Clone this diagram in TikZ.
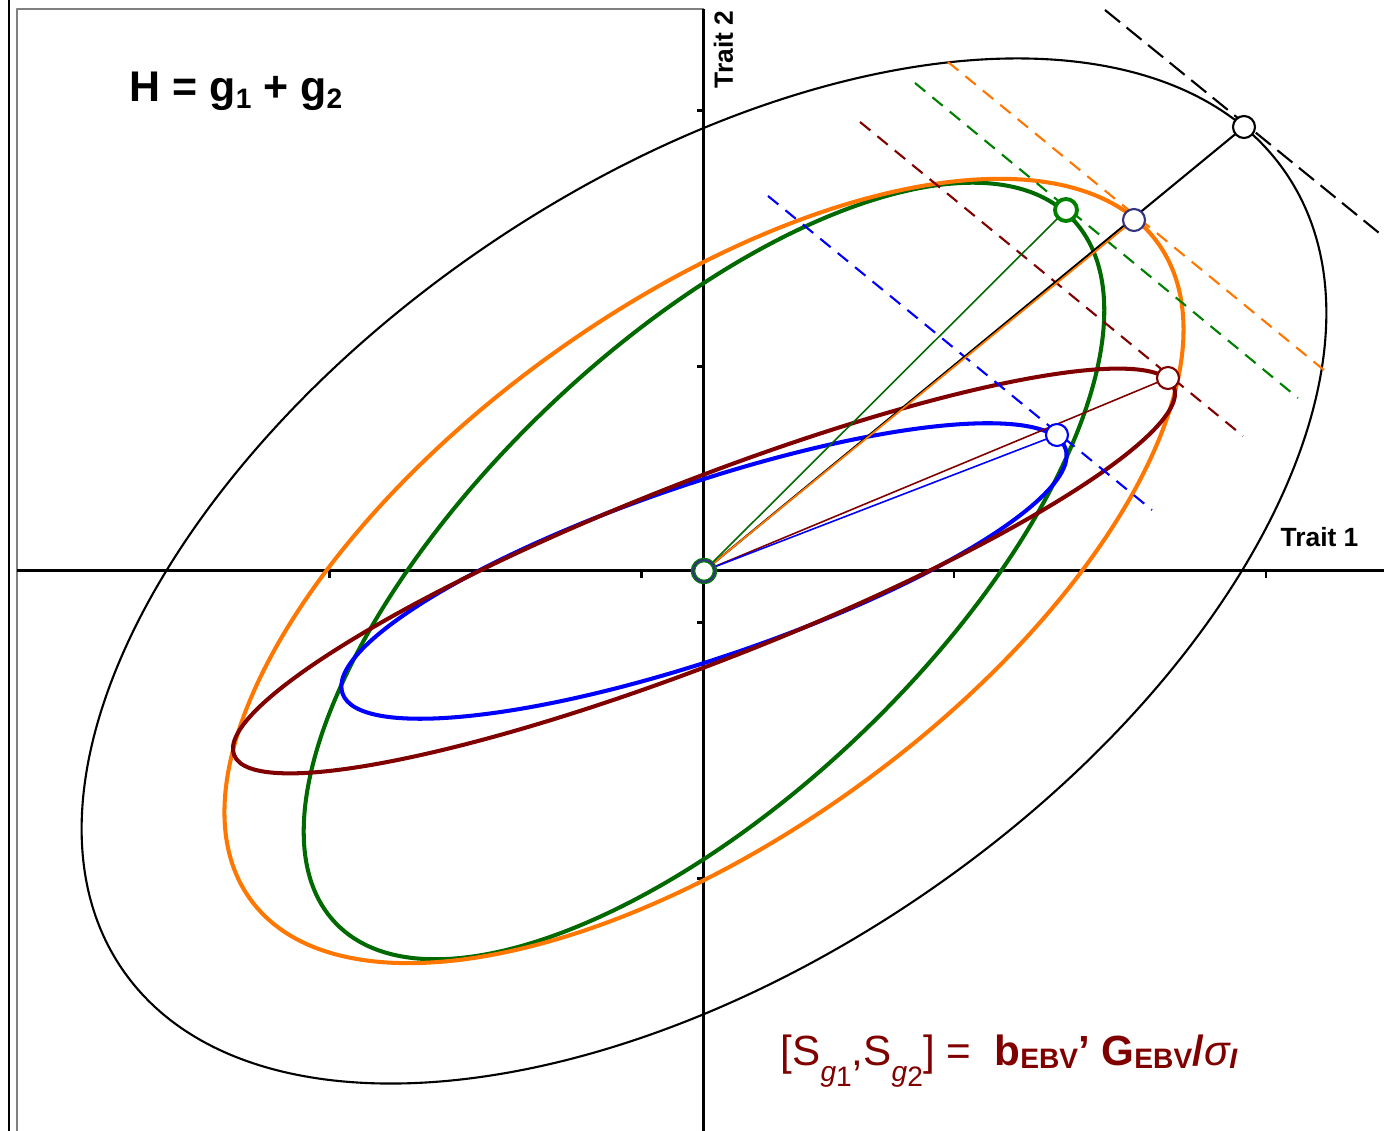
\documentclass[tikz,border=0pt]{standalone}
\usepackage{fontspec}
\setmainfont{Liberation Sans}
\definecolor{hgorange}{RGB}{255,119,0}
\definecolor{hggreen}{RGB}{0,105,0}
\definecolor{hglgreen}{RGB}{0,128,0}
\definecolor{hgred}{RGB}{128,0,0}
\definecolor{hgblue}{RGB}{0,0,255}
\definecolor{hgnavy}{RGB}{51,51,128}
\definecolor{hggrey}{RGB}{128,128,128}
\newcommand\hglo[2][1.9pt]{\raisebox{-#1}{\fontsize{8}{9}\selectfont #2}}

\begin{document}
\begin{tikzpicture}[x=0.01cm,y=0.01cm,line join=round,
  mk/.style={circle,draw,fill=white,inner sep=0pt,minimum size=0.22cm,line width=0.6pt},
  dsh/.style={line width=0.6pt,dash pattern=on 3.8pt off 2.6pt},
  crv/.style={line width=1.15pt},
  ax/.style={line width=0.85pt},
  trait/.style={font=\fontsize{7.5}{9}\selectfont\bfseries,anchor=base west,inner sep=0pt}]
  \useasboundingbox (-704,-560) rectangle (680,571);
  \coordinate (O) at (0,0);
  \coordinate (H) at (540,444);
  \coordinate (Ho) at (430,351);
  \coordinate (Gr) at (362,361);
  \coordinate (Rd) at (464,193);
  \coordinate (Bl) at (353,136);
  \coordinate (H1) at (401,561);
  \coordinate (H2) at (680,334);
  \coordinate (Ho1) at (244,509);
  \coordinate (Ho2) at (626,196);
  \coordinate (Gr1) at (211,488);
  \coordinate (Gr2) at (594,173);
  \coordinate (Rd1) at (156,449);
  \coordinate (Rd2) at (539,135);
  \coordinate (Bl1) at (64,375);
  \coordinate (Bl2) at (448,61);
  \draw[line width=0.6pt] (-694.7,-560) -- (-694.7,571);
  \draw[hggrey,line width=0.6pt] (-686.7,-560) -- (-686.7,561.7) -- (0,561.7);
  \draw[ax] (-686.7,0) -- (680,0);
  \draw[ax] (0,561.7) -- (0,-560);
  \foreach \x in {-374,-62,250,562} \draw[ax] (\x,0) -- (\x,-7);
  \foreach \y in {460,204,-52,-308} \draw[ax] (0,\y) -- (-7,\y);
  \node[trait,rotate=90] (t2) at (29,482) {Trait 2};
  \node[trait] (t1) at (576,24) {Trait 1};
  \node[font=\fontsize{12.2}{14}\selectfont\bfseries,anchor=base west,inner sep=0pt] (hsum) at (-575,469)
    {H = g\hglo{1} + g\hglo{2}};
  \node[text=hgred,font=\fontsize{12}{14}\selectfont,anchor=base west,inner sep=0pt] (sel) at (76,-495)
    {[S\hglo[4.3pt]{\textit{g}\raisebox{-1.5pt}{1}},S\hglo[4.3pt]{\textit{g}\raisebox{-1.5pt}{2}}] = \ \textbf{b\hglo[0.6pt]{EBV}' G\hglo[0.6pt]{EBV}/}\textit{σ\hglo[0.6pt]{\textbf{I}}}};
  \draw[line width=0.6pt,rotate=34.4] (O) ellipse [x radius=705,y radius=391];
  \draw[crv,hggreen,rotate=43.7] (O) ellipse [x radius=509.6,y radius=226.2];
  \draw[crv,hgorange,rotate=35.9] (O) ellipse [x radius=560,y radius=264.6];
  \draw[crv,hgblue,rotate=18.7] (O) ellipse [x radius=381.7,y radius=87.4];
  \draw[crv,hgred,rotate=21.4] (O) ellipse [x radius=504.7,y radius=90.1];
  \draw[line width=0.6pt,dash pattern=on 5.5pt off 2.4pt] (H1) -- (H2);
  \draw[dsh,hgorange] (Ho1) -- (Ho2);
  \draw[dsh,hglgreen] (Gr1) -- (Gr2);
  \draw[dsh,hgred] (Rd1) -- (Rd2);
  \draw[dsh,hgblue] (Bl1) -- (Bl2);
  \draw[line width=0.6pt] (O) -- (H);
  \draw[line width=0.5pt,hgorange] (O) -- (Ho);
  \draw[line width=0.45pt,hggreen] (O) -- (Gr);
  \draw[line width=0.45pt,hgred] (O) -- (Rd);
  \draw[line width=0.45pt,hgblue] (O) -- (Bl);
  \node[mk] (mH) at (H) {};
  \node[mk,draw=hgnavy] (mHo) at (Ho) {};
  \node[mk,draw=hglgreen,line width=1.1pt] (mGr) at (Gr) {};
  \node[mk,draw=hgred] (mRd) at (Rd) {};
  \node[mk,draw=hgblue] (mBl) at (Bl) {};
  \node[mk,draw=hglgreen,line width=1.3pt,postaction={draw=hgnavy,line width=0.6pt}] (mO) at (O) {};
\end{tikzpicture}
\end{document}
